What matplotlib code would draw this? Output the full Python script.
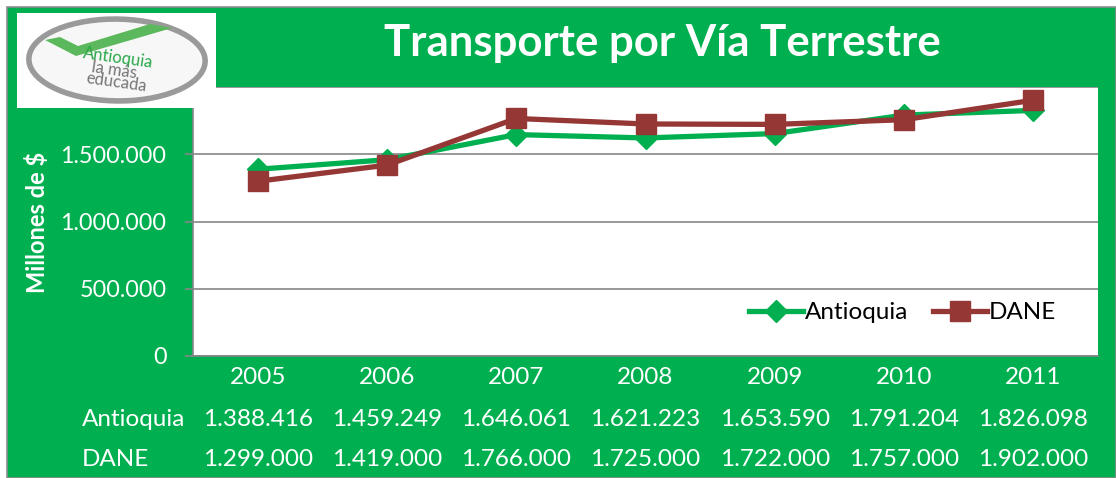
import matplotlib
matplotlib.use('Agg')
import matplotlib.pyplot as plt
from matplotlib.patches import Rectangle, Ellipse, Polygon
import numpy as np

years = ['2005', '2006', '2007', '2008', '2009', '2010', '2011']
antioquia = [1388416, 1459249, 1646061, 1621223, 1653590, 1791204, 1826098]
dane = [1299000, 1419000, 1766000, 1725000, 1722000, 1757000, 1902000]
yticks = [0, 500000, 1000000, 1500000, 2000000]

GREEN = '#00B050'
RED = '#953735'
W, H = 1116, 478
FS = 17.5

plt.rcParams['font.family'] = ['Lato', 'DejaVu Sans']


def fx(x):
    return x / W


def fy(y):
    return 1 - y / H


def fmt(v):
    return f'{v:,}'.replace(',', '.')


fig = plt.figure(figsize=(W / 100, H / 100), dpi=100)
fig.patch.set_facecolor('white')

# green frame with thin grey border on top/left
fig.patches.append(Rectangle((fx(7), 0), 1 - fx(7), fy(7), transform=fig.transFigure,
                             facecolor=GREEN, edgecolor='#8c8c8c', lw=1.2, zorder=-5))

# plot area
ax = fig.add_axes([fx(193), fy(356), fx(1098) - fx(193), fy(87) - fy(356)])
ax.set_facecolor('white')
x = np.arange(len(years))
ax.plot(x, antioquia, color=GREEN, lw=3.8, marker='D', ms=11, label='Antioquia', zorder=3)
ax.plot(x, dane, color=RED, lw=3.8, marker='s', ms=14, label='DANE', zorder=4)
ax.set_xlim(-0.5, len(years) - 0.5)
ax.set_ylim(0, 2000000)
ax.set_yticks(yticks)
ax.set_yticklabels([fmt(v) for v in yticks], color='white', fontsize=16.8)
ax.set_xticks(x)
ax.set_xticklabels(years, color='white', fontsize=FS)
ax.tick_params(axis='x', length=0, pad=8)
ax.tick_params(axis='y', length=6, width=1.2, color='#868686', pad=13)
ax.grid(axis='y', color='#868686', lw=1.2)
ax.set_axisbelow(True)
for s in ['top', 'right']:
    ax.spines[s].set_visible(False)
for s in ['left', 'bottom']:
    ax.spines[s].set_color('#868686')
    ax.spines[s].set_linewidth(1.2)

fig.text(fx(37), fy(222), 'Millones de $', rotation=90, color='white', fontsize=17,
         fontweight='bold', ha='center', va='center')

ax.legend(loc='lower right', bbox_to_anchor=(0.978, 0.04), ncol=2, frameon=False,
          fontsize=FS, handlelength=2.2, columnspacing=1.0, handletextpad=0.1)

# data table below the chart
for i, xi in enumerate(x):
    xc = ax.transData.transform((xi, 0))[0]
    fig.text(xc / W, fy(419), fmt(antioquia[i]), color='white', fontsize=FS, ha='center', va='center')
    fig.text(xc / W, fy(460), fmt(dane[i]), color='white', fontsize=FS, ha='center', va='center')
fig.text(fx(82), fy(419), 'Antioquia', color='white', fontsize=FS, ha='left', va='center')
fig.text(fx(82), fy(460), 'DANE', color='white', fontsize=FS, ha='left', va='center')

# title
fig.text(fx(662), fy(43), 'Transporte por Vía Terrestre', color='white', fontsize=31.5,
         fontweight='bold', ha='center', va='center')

# logo
fig.patches.append(Rectangle((fx(17), fy(108)), fx(216) - fx(17), fy(13) - fy(108),
                             transform=fig.transFigure, facecolor='white', edgecolor='none', zorder=5))
fig.patches.append(Ellipse((fx(117), fy(60)), fx(176) - fx(0), fy(0) - fy(82), angle=8,
                           transform=fig.transFigure, facecolor='#f7f7f7', edgecolor='#9a9a9a',
                           lw=4, zorder=6))
fig.patches.append(Polygon([[fx(45), fy(40)], [fx(60), fy(37)], [fx(78), fy(46)],
                            [fx(150), fy(24)], [fx(172), fy(28)], [fx(76), fy(56)]],
                           closed=True, transform=fig.transFigure, facecolor='#5cb85c',
                           edgecolor='none', zorder=7))
fig.text(fx(118), fy(58), 'Antioquia', color='#2aa84a', fontsize=12, ha='center', va='center',
         rotation=-8, zorder=8)
fig.text(fx(114), fy(70), 'la más', color='#777777', fontsize=12, ha='center', va='center',
         rotation=-8, zorder=8)
fig.text(fx(116), fy(82), 'educada', color='#777777', fontsize=12, ha='center', va='center',
         rotation=-8, zorder=8)

fig.savefig('out.png', dpi=100, facecolor=fig.get_facecolor())
